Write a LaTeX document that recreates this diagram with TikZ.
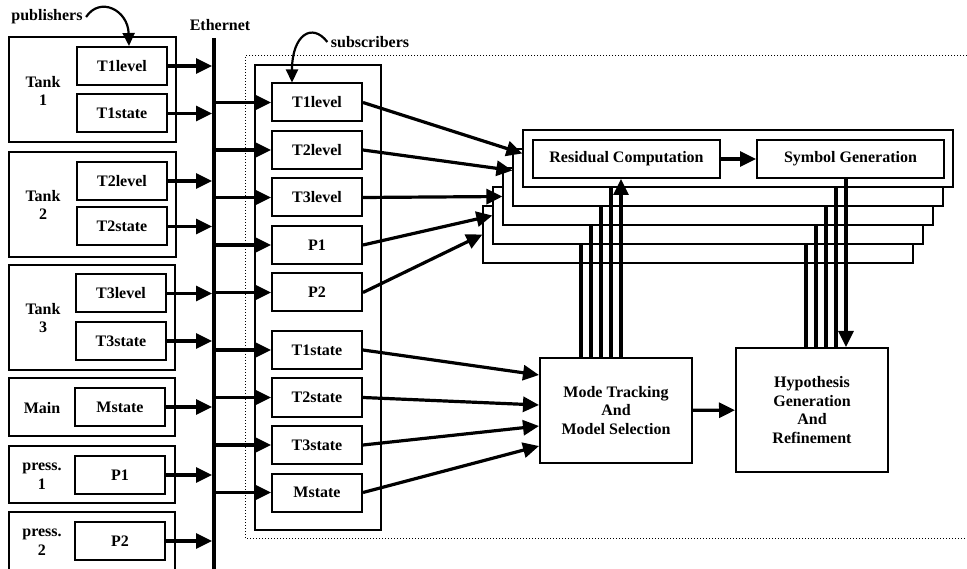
\documentclass[tikz,border=0pt]{standalone}
\usepackage{fontspec}
\setmainfont{Liberation Serif}
\usepackage{tikz}
\usetikzlibrary{positioning,arrows.meta,calc}

\begin{document}
\begin{tikzpicture}[x=1pt, y=-1pt,
    font=\fontsize{16}{18.5}\selectfont\bfseries,
    box/.style={draw, line width=2pt, minimum width=90pt, minimum height=38pt, inner sep=0pt},
    win/.style={draw, fill=white, line width=1.2pt, minimum width=430pt, minimum height=57pt, inner sep=0pt},
    frame/.style={draw, line width=1.2pt},
    arr/.style={line width=3.2pt, -{Triangle[length=16pt,width=15pt]}},
    bus/.style={line width=3.2pt},
    curl/.style={line width=2.2pt, -{Triangle[length=13pt,width=12pt]}}]
    \useasboundingbox (0,0) rectangle (967,569);

    % Publisher groups
    \draw[frame] (9,37) rectangle (176,142);
    \draw[frame] (9,152) rectangle (176,257);
    \draw[frame] (9,265) rectangle (175,370);
    \draw[frame] (9,378) rectangle (175,436);
    \draw[frame] (9,446) rectangle (175,503);
    \draw[frame] (9,512) rectangle (175,572);
    \node[align=center] (tank1) at (43,91) {Tank\\1};
    \node[align=center] (tank2) at (43,205) {Tank\\2};
    \node[align=center] (tank3) at (43,318) {Tank\\3};
    \node (main) at (42,408) {Main};
    \node[align=center] (press1) at (42,476) {press.\\1};
    \node[align=center] (press2) at (42,542) {press.\\2};

    % Publisher boxes
    \node[box] (pT1level) at (122,66) {T1level};
    \node[box] (pT1state) at (122,113.5) {T1state};
    \node[box] (pT2level) at (122,181) {T2level};
    \node[box] (pT2state) at (122,226.5) {T2state};
    \node[box] (pT3level) at (121,293.5) {T3level};
    \node[box] (pT3state) at (121,341) {T3state};
    \node[box] (pMstate) at (120,407) {Mstate};
    \node[box] (pP1) at (120,475) {P1};
    \node[box] (pP2) at (120,541) {P2};

    % Ethernet
    \coordinate (ethtop) at (214,38);
    \coordinate (ethbot) at (214,572);
    \draw[line width=4.5pt] (ethtop) -- (ethbot);
    \node (eth) at (220,25) {Ethernet};
    \foreach \p in {pT1level,pT1state,pT2level,pT2state,pT3level,pT3state,pMstate,pP1,pP2}
        \draw[arr, shorten >=2pt] (\p.east) -- (ethtop |- \p.east);

    % Diagnoser region
    \draw[dotted, line width=1pt] (967,56) -| (245,538) -- (967,538);
    \draw[frame] (255,65) rectangle (381,530);

    % Subscriber boxes
    \foreach \n [count=\i from 0] in {T1level,T2level,T3level,P1,P2}
        \node[box] (s\n) at (317,102.5+47.5*\i) {\n};
    \foreach \n [count=\i from 0] in {T1state,T2state,T3state,Mstate}
        \node[box] (s\n) at (317,350+47.5*\i) {\n};
    \foreach \n in {T1level,T2level,T3level,P1,P2,T1state,T2state,T3state,Mstate}
        \draw[arr] (ethtop |- s\n.west) -- (s\n.west);

    % Curly pointers
    \node (pub) at (47,17) {publishers};
    \draw[curl] (pub.east) .. controls (100,-4) and (128,10) .. ([xshift=7]pT1level.north);
    \node (sub) at (370,42) {subscribers};
    \draw[curl] (sub.west) .. controls (312,22) and (292,35) .. ([xshift=-25]sT1level.north);

    % Stacked model windows
    \foreach \k in {5,4,3,2,1}
        \node[win] (w\k) at ({738-10*(\k-1)},{158.5+19*(\k-1)}) {};
    \node[box, minimum width=187pt] (res) at (626.5,159) {Residual Computation};
    \node[box, minimum width=187pt] (sym) at (850.5,159) {Symbol Generation};
    \draw[arr] (res) -- (sym);

    \draw[arr] (sT1level.east) -- ($(w1.west)+(0,-5)$);
    \draw[arr] (sT2level.east) -- ($(w2.west)+(0,-7)$);
    \draw[arr] (sT3level.east) -- (w3.west);
    \draw[arr] (sP1.east) -- (w4.west);
    \draw[arr] (sP2.east) -- (w5.west);

    % Mode tracking and hypotheses
    \node[box, minimum width=152pt, minimum height=105pt, align=center] (mode) at (616,410.5) {Mode Tracking\\And\\Model Selection};
    \node[box, minimum width=152pt, minimum height=124pt, align=center] (hyp) at (812,410) {Hypothesis\\Generation\\And\\Refinement};
    \draw[arr] (mode) -- (hyp);

    \draw[arr] (sT1state.east) -- ($(mode.west)+(0,-35.5)$);
    \draw[arr] (sT2state.east) -- ($(mode.west)+(0,-5.5)$);
    \draw[arr] (sT3state.east) -- ($(mode.west)+(0,15.5)$);
    \draw[arr] (sMstate.east) -- ($(mode.west)+(0,35.5)$);

    % Model lines
    \foreach \k/\dx in {4/-35,3/-25,2/-15,1/-5}
        \draw[bus] ([xshift=\dx]mode.north) -- ([xshift=\dx]mode.north |- w\k.south);
    \draw[arr] ([xshift=5]mode.north) -- ([xshift=5]mode.north |- res.south);
    \foreach \k/\dx in {4/-6,3/4,2/14,1/24}
        \draw[bus] ([xshift=\dx]hyp.north) -- ([xshift=\dx]hyp.north |- w\k.south);
    \draw[arr] ([xshift=34]hyp.north |- sym.south) -- ([xshift=34]hyp.north);
\end{tikzpicture}
\end{document}
